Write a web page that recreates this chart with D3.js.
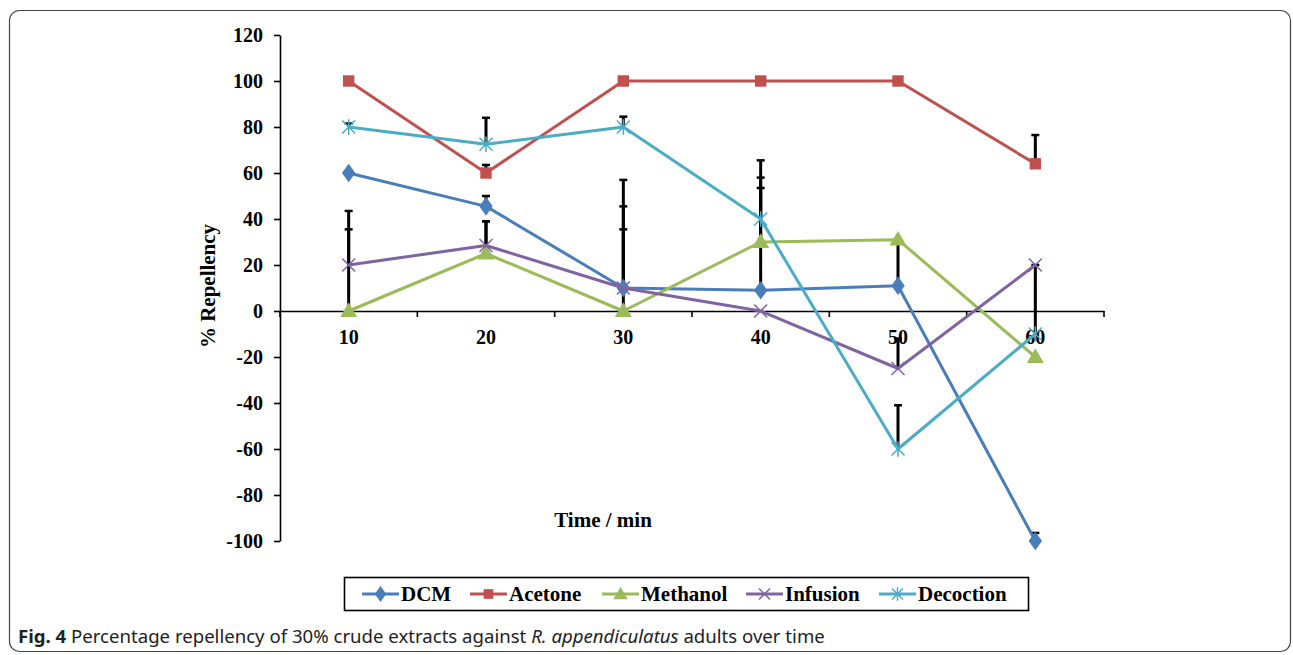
<!DOCTYPE html>
<html>
<head>
<meta charset="utf-8">
<script src="https://cdn.jsdelivr.net/npm/d3@7"></script>
<style>
  body { margin: 0; background: #fff; }
  svg { display: block; }
</style>
</head>
<body>
<div id="chart"></div>
<script>
const width = 1293;
const height = 655;

// data
const times = ["10", "20", "30", "40", "50", "60"];
const seriesNames = ["DCM", "Acetone", "Methanol", "Infusion", "Decoction"];
const dcm = [60, 45.5, 10, 9, 11, -100];
const acetone = [100, 60, 100, 100, 100, 64];
const methanol = [0, 25, 0, 30, 31, -20];
const infusion = [20, 28.5, 10, 0, -25, 20];
const decoction = [80, 72.5, 80, 40, -60, -10];
// upper error bars (only the + side is drawn)
const dcmErr = [0, 4.5, 35.5, 44.5, 20, 3.5];
const acetoneErr = [0, 3.5, 0, 0, 0, 12.5];
const methanolErr = [43.5, 14, 57, 28, 0, 0];
const infusionErr = [15.5, 10.5, 25.5, 0, 13, 0];
const decoctionErr = [1.5, 11.5, 4.5, 25.5, 19, 30];
const yTicks = [-100, -80, -60, -40, -20, 0, 20, 40, 60, 80, 100, 120];
const colors = ["#4a7ebb", "#c0504d", "#9bbb59", "#8064a2", "#4bacc6"];

const values = [dcm, acetone, methanol, infusion, decoction];
const errors = [dcmErr, acetoneErr, methanolErr, infusionErr, decoctionErr];

const svg = d3.select("#chart").append("svg")
    .attr("width", width)
    .attr("height", height);

// outer frame of the figure
svg.append("rect")
    .attr("x", 9.5).attr("y", 10.5)
    .attr("width", 1281).attr("height", 641)
    .attr("rx", 10)
    .attr("fill", "none")
    .attr("stroke", "#444")
    .attr("stroke-width", 1.2);

const x = d3.scaleBand().domain(times).range([280, 1104]);
const y = d3.scaleLinear().domain([-100, 120]).range([541, 35]);
const cx = d => x(d) + x.bandwidth() / 2;

const serif = "'Liberation Serif', 'Times New Roman', serif";

// y axis
const yAxis = svg.append("g")
    .attr("transform", "translate(280,0)")
    .call(d3.axisLeft(y).tickValues(yTicks).tickSize(6).tickSizeOuter(0).tickPadding(11)
        .tickFormat(d => String(d)));
yAxis.selectAll("path, line").attr("stroke", "#000").attr("stroke-width", 1.6);
yAxis.selectAll("text")
    .attr("font-family", serif)
    .attr("font-weight", "bold")
    .attr("font-size", 20)
    .attr("fill", "#000");

// x axis through zero
const xAxis = svg.append("g")
    .attr("transform", `translate(0,${y(0)})`)
    .call(d3.axisBottom(x).tickSize(0).tickSizeOuter(0).tickPadding(19));
xAxis.select("path").attr("stroke", "#000").attr("stroke-width", 1.6);
xAxis.selectAll("text")
    .attr("font-family", serif)
    .attr("font-weight", "bold")
    .attr("font-size", 20)
    .attr("fill", "#000");
// tick marks between categories
const bounds = times.map(t => x(t) + x.bandwidth()).concat([x(times[0])]);
xAxis.selectAll(".sep").data(bounds).enter().append("line")
    .attr("x1", d => d).attr("x2", d => d)
    .attr("y1", 0).attr("y2", 6)
    .attr("stroke", "#000").attr("stroke-width", 1.6);

// axis titles
svg.append("text")
    .attr("transform", "translate(215,286) rotate(-90)")
    .attr("text-anchor", "middle")
    .attr("font-family", serif).attr("font-weight", "bold").attr("font-size", 21)
    .text("% Repellency");
svg.append("text")
    .attr("x", 603).attr("y", 527)
    .attr("text-anchor", "middle")
    .attr("font-family", serif).attr("font-weight", "bold").attr("font-size", 21)
    .text("Time / min");

// error bars
const errG = svg.append("g");
values.forEach((vals, s) => {
    vals.forEach((v, i) => {
        const e = errors[s][i];
        if (!e) return;
        const px = cx(times[i]);
        errG.append("line")
            .attr("x1", px).attr("x2", px)
            .attr("y1", y(v)).attr("y2", y(v + e))
            .attr("stroke", "#000").attr("stroke-width", 3);
        errG.append("line")
            .attr("x1", px - 4).attr("x2", px + 4)
            .attr("y1", y(v + e)).attr("y2", y(v + e))
            .attr("stroke", "#000").attr("stroke-width", 2.5);
    });
});

// marker shapes
function drawMarker(g, s, px, py, scale) {
    const k = scale || 1;
    const c = colors[s];
    if (s === 0) {
        g.append("path").attr("d", d3.symbol(d3.symbolDiamond, 100 * k * k)())
            .attr("transform", `translate(${px},${py}) scale(1.25,1)`).attr("fill", c);
    } else if (s === 1) {
        g.append("path").attr("d", d3.symbol(d3.symbolSquare, 130 * k * k)())
            .attr("transform", `translate(${px},${py})`).attr("fill", c);
    } else if (s === 2) {
        g.append("path").attr("d", d3.symbol(d3.symbolTriangle, 125 * k * k)())
            .attr("transform", `translate(${px},${py + 1})`).attr("fill", c);
    } else {
        const r = 6.5 * k;
        const p = d3.path();
        p.moveTo(px - r, py - r); p.lineTo(px + r, py + r);
        p.moveTo(px - r, py + r); p.lineTo(px + r, py - r);
        if (s === 4) { p.moveTo(px, py - r * 1.2); p.lineTo(px, py + r * 1.2); }
        g.append("path").attr("d", p.toString())
            .attr("stroke", c).attr("stroke-width", 1.5).attr("fill", "none");
    }
}

const line = d3.line().x((d, i) => cx(times[i])).y(d => y(d));
values.forEach((vals, s) => {
    const g = svg.append("g");
    g.append("path")
        .attr("d", line(vals))
        .attr("fill", "none")
        .attr("stroke", colors[s])
        .attr("stroke-width", 3)
        .attr("stroke-linejoin", "round");
    vals.forEach((v, i) => drawMarker(g, s, cx(times[i]), y(v)));
});

// legend
const legend = svg.append("g");
legend.append("rect")
    .attr("x", 344.5).attr("y", 577.5)
    .attr("width", 684).attr("height", 33)
    .attr("fill", "#fff").attr("stroke", "#000").attr("stroke-width", 1.6);
const legX = [362, 470, 602, 746, 879];
seriesNames.forEach((name, s) => {
    const lx = legX[s];
    const ly = 594;
    legend.append("line")
        .attr("x1", lx).attr("x2", lx + 37)
        .attr("y1", ly).attr("y2", ly)
        .attr("stroke", colors[s]).attr("stroke-width", 3);
    drawMarker(legend, s, lx + 18.5, ly, 0.85);
    legend.append("text")
        .attr("x", lx + 39).attr("y", ly + 7)
        .attr("font-family", serif).attr("font-weight", "bold").attr("font-size", 21)
        .text(name);
});

// caption
const cap = svg.append("text")
    .attr("x", 18).attr("y", 643)
    .attr("font-family", "'Noto Sans', sans-serif")
    .attr("font-size", 18.6)
    .attr("fill", "#222");
cap.append("tspan").attr("font-weight", "bold").text("Fig. 4");
cap.append("tspan").text(" Percentage repellency of 30% crude extracts against ");
cap.append("tspan").attr("font-style", "italic").text("R. appendiculatus");
cap.append("tspan").text(" adults over time");
</script>
</body>
</html>
